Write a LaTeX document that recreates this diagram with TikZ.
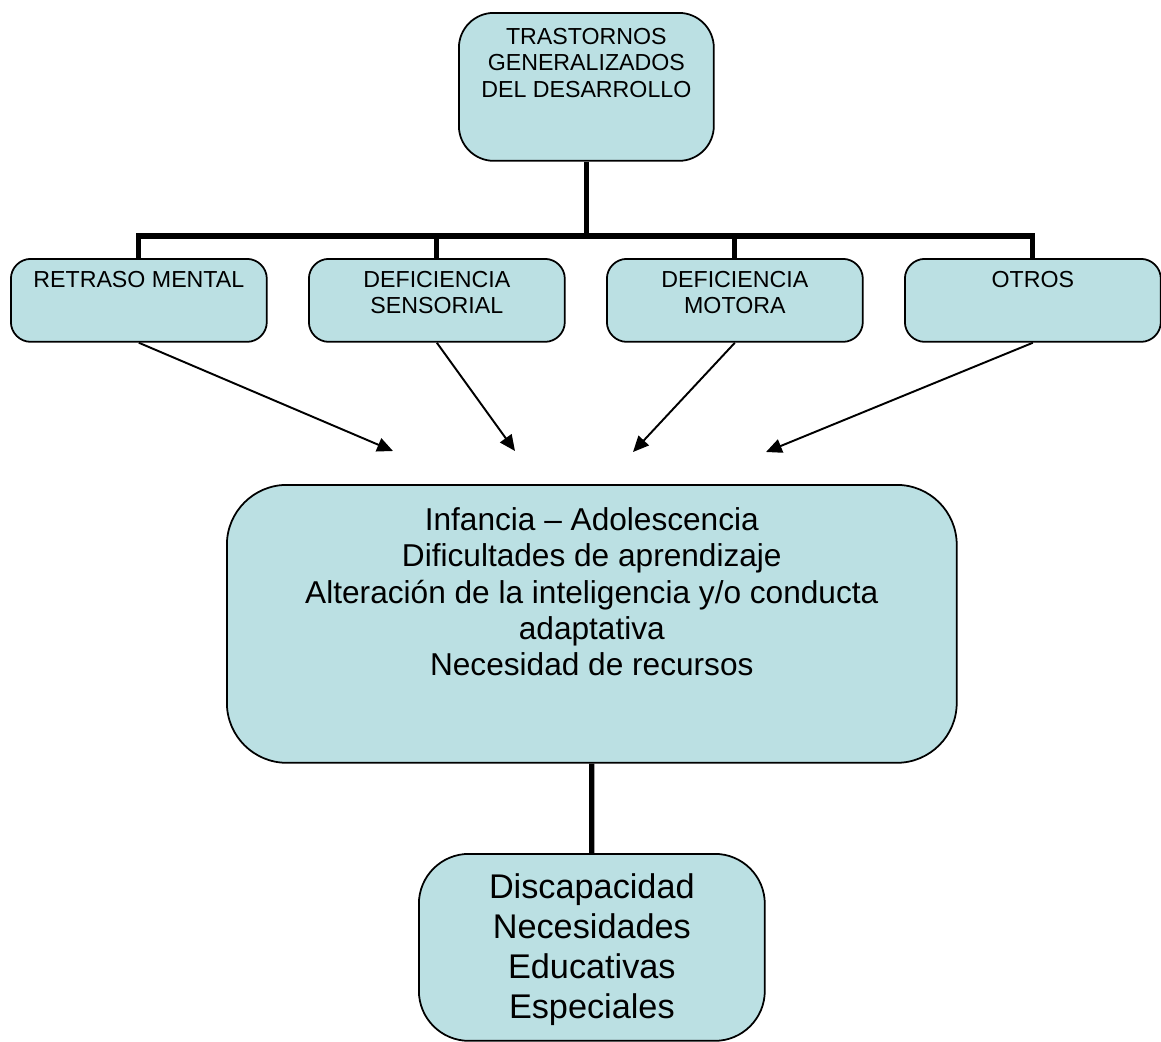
\documentclass[tikz,border=0pt]{standalone}
\usepackage{fontspec}
\setmainfont{Liberation Sans}
\usetikzlibrary{arrows.meta}
\definecolor{cajafondo}{RGB}{187,224,227}
\tikzset{
  caja/.style={draw, line width=1pt, fill=cajafondo, anchor=north west, inner xsep=0pt},
  barra/.style={line width=3pt},
  flecha/.style={line width=1.1pt, -{Triangle[length=9pt,width=8pt]}}
}
\newcommand{\cajatexto}[5]{\parbox[t][#2][t]{#1}{\centering\fontsize{#3}{#4}\selectfont #5}}

\begin{document}
\begin{tikzpicture}[x=0.02cm, y=-0.02cm]
            \useasboundingbox (0,0) rectangle (1161,1042);

            \node[caja, rounded corners=0.7cm, inner ysep=0.3cm] (tgd) at (458,12) {\cajatexto{5.1cm}{2.36cm}{13.2}{15.2}{TRASTORNOS\\GENERALIZADOS\\DEL DESARROLLO}};
            \node[caja, rounded corners=0.4cm, inner ysep=0.24cm] (rm) at (10,258) {\cajatexto{5.12cm}{1.18cm}{13.2}{15.2}{RETRASO MENTAL}};
            \node[caja, rounded corners=0.4cm, inner ysep=0.24cm] (ds) at (308,258) {\cajatexto{5.12cm}{1.18cm}{13.2}{15.2}{DEFICIENCIA\\SENSORIAL}};
            \node[caja, rounded corners=0.4cm, inner ysep=0.24cm] (dm) at (606,258) {\cajatexto{5.12cm}{1.18cm}{13.2}{15.2}{DEFICIENCIA\\MOTORA}};
            \node[caja, rounded corners=0.4cm, inner ysep=0.24cm] (otros) at (904,258) {\cajatexto{5.12cm}{1.18cm}{13.2}{15.2}{OTROS}};
            \node[caja, rounded corners=1.2cm, inner ysep=0.46cm] (centro) at (226,484) {\cajatexto{14.6cm}{4.64cm}{18}{20.6}{Infancia – Adolescencia\\Dificultades de aprendizaje\\Alteración de la inteligencia y/o conducta\\adaptativa\\Necesidad de recursos}};
            \node[caja, rounded corners=1cm, inner ysep=0.4cm] (nee) at (418,853) {\cajatexto{6.92cm}{2.94cm}{19.5}{22.7}{Discapacidad\\Necesidades\\Educativas\\Especiales}};

            \coordinate (bus) at (tgd.south |- 0,236);
            \coordinate (f1) at (393,451);
            \coordinate (f2) at (515,451);
            \coordinate (f3) at (633,452);
            \coordinate (f4) at (766,452);

            \draw[barra] (tgd.south) -- (bus);
            \draw[barra] (rm.north) |- (bus) -| (otros.north);
            \foreach \n in {ds, dm}
                \draw[barra] (\n.north) -- (\n.north |- bus);
            \draw[barra] (centro.south) -- (nee.north);

            \draw[flecha] (rm.south) -- (f1);
            \draw[flecha] (ds.south) -- (f2);
            \draw[flecha] (dm.south) -- (f3);
            \draw[flecha] (otros.south) -- (f4);
        \end{tikzpicture}
\end{document}
